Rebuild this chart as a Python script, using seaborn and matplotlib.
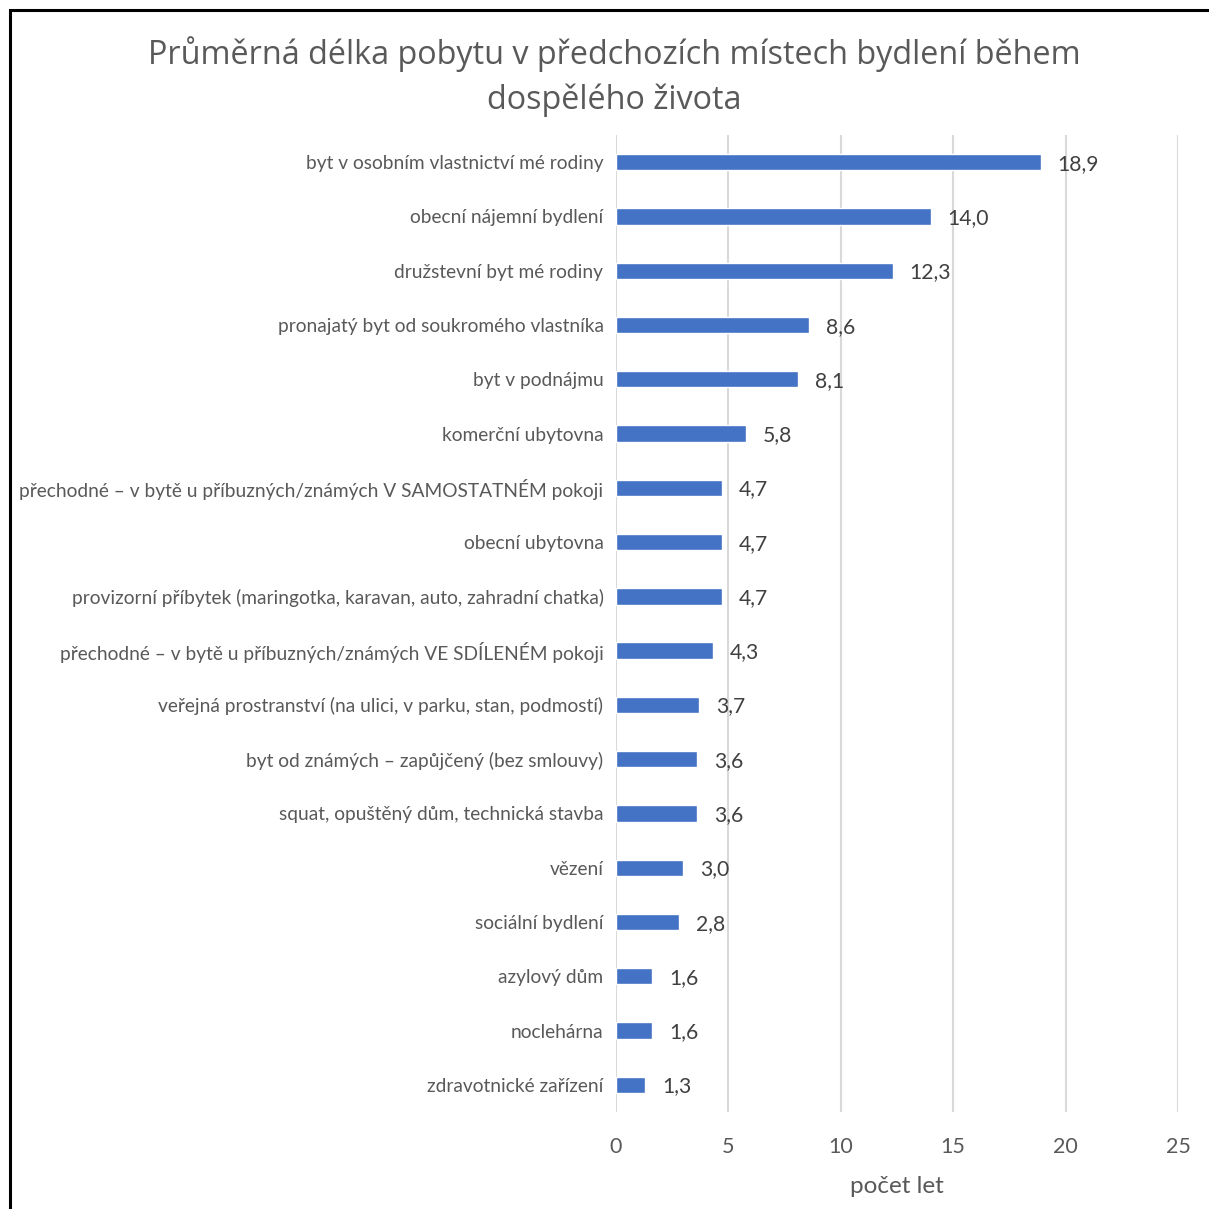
import matplotlib
matplotlib.use("Agg")
import matplotlib.pyplot as plt
import seaborn as sns
import pandas as pd
from matplotlib.patches import Rectangle

# Data
categories = [
    "byt v osobním vlastnictví mé rodiny",
    "obecní nájemní bydlení",
    "družstevní byt mé rodiny",
    "pronajatý byt od soukromého vlastníka",
    "byt v podnájmu",
    "komerční ubytovna",
    "přechodné – v bytě u příbuzných/známých V SAMOSTATNÉM pokoji",
    "obecní ubytovna",
    "provizorní příbytek (maringotka, karavan, auto, zahradní chatka)",
    "přechodné – v bytě u příbuzných/známých VE SDÍLENÉM pokoji",
    "veřejná prostranství (na ulici, v parku, stan, podmostí)",
    "byt od známých – zapůjčený (bez smlouvy)",
    "squat, opuštěný dům, technická stavba",
    "vězení",
    "sociální bydlení",
    "azylový dům",
    "noclehárna",
    "zdravotnické zařízení",
]
values = [18.9, 14.0, 12.3, 8.6, 8.1, 5.8, 4.7, 4.7, 4.7, 4.3, 3.7, 3.6, 3.6, 3.0, 2.8, 1.6, 1.6, 1.3]
x_ticks = [0, 5, 10, 15, 20, 25]

title = "Průměrná délka pobytu v předchozích místech bydlení během\ndospělého života"
x_label = "počet let"

bar_color = "#4472C4"
text_color = "#595959"
grid_color = "#D9D9D9"

sns.set_theme(style="white")
plt.rcParams["font.family"] = ["Lato", "DejaVu Sans"]

df = pd.DataFrame({"category": categories, "value": values})

fig = plt.figure(figsize=(12.09, 12.09), dpi=100)
W = H = 1209
ax = fig.add_axes([616 / W, 1 - 1112 / H, (1178 - 616) / W, (1112 - 135) / H])

sns.barplot(data=df, x="value", y="category", color=bar_color, width=0.3,
            saturation=1, ax=ax, zorder=3)

ax.set_xlim(0, 25)
ax.set_ylim(len(categories) - 0.5, -0.5)
ax.set_xticks(x_ticks)
ax.xaxis.grid(True, color=grid_color, linewidth=1.5, zorder=0)
ax.yaxis.grid(False)
for s in ax.spines.values():
    s.set_visible(False)
ax.tick_params(axis="both", length=0, colors=text_color)
ax.tick_params(axis="y", labelsize=13.8, pad=9)
ax.tick_params(axis="x", labelsize=15.5, pad=18)
ax.set_ylabel("")
ax.set_xlabel(x_label, fontsize=17.5, color=text_color, labelpad=14)

for i, v in enumerate(values):
    ax.text(v + 0.75, i + 0.03, f"{v:.1f}".replace(".", ","), va="center", ha="left",
            fontsize=15.2, color="#404040")

fig.text(0.508, 1 - 77 / H, title, ha="center", va="center", fontsize=23.3,
         color=text_color, family=["Open Sans", "DejaVu Sans"], linespacing=1.45)

# Chart frame, cut off at the right and bottom like the reference
fig.patches.append(Rectangle((10 / W, -0.01), 1.02, 1 - 10 / H + 0.01,
                             transform=fig.transFigure, fill=False,
                             edgecolor="black", linewidth=2.2))

fig.savefig("out.png", dpi=100)
